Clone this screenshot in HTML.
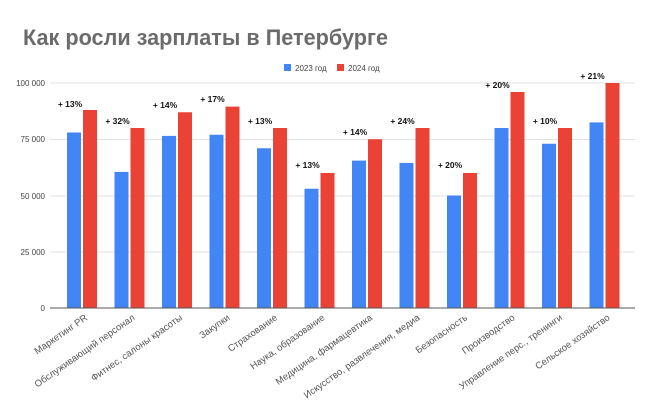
<!DOCTYPE html>
<html><head><meta charset="utf-8"><style>body{margin:0;background:#fff}svg{display:block}</style></head>
<body>
<svg width="656" height="408" xmlns="http://www.w3.org/2000/svg" font-family="Liberation Sans, sans-serif">
<rect width="656" height="408" fill="#fff"/>
<text x="23" y="45" font-size="22" font-weight="bold" fill="#6b6b6b" textLength="365" lengthAdjust="spacingAndGlyphs">Как росли зарплаты в Петербурге</text>
<rect x="284" y="64" width="7" height="7" fill="#4285f4"/>
<text x="295" y="71" font-size="8" fill="#444">2023 год</text>
<rect x="337" y="64" width="7" height="7" fill="#ea4335"/>
<text x="348" y="71" font-size="8" fill="#444">2024 год</text>
<g stroke="#e0e0e0" stroke-width="1">
<line x1="50" y1="83" x2="635" y2="83"/><line x1="50" y1="139.5" x2="635" y2="139.5"/>
<line x1="50" y1="196" x2="635" y2="196"/><line x1="50" y1="252" x2="635" y2="252"/>
</g>
<g font-size="8" fill="#444" text-anchor="end">
<text x="45" y="86">100 000</text><text x="45" y="142">75 000</text><text x="45" y="199">50 000</text><text x="45" y="255">25 000</text><text x="45" y="311">0</text>
</g>
<g fill="#4285f4">
<rect x="67" y="132.5" width="14" height="175.5"/>
<rect x="114.5" y="171.9" width="14" height="136.1"/>
<rect x="162" y="135.9" width="14" height="172.1"/>
<rect x="209.5" y="134.75" width="14" height="173.25"/>
<rect x="257" y="148.25" width="14" height="159.75"/>
<rect x="304.5" y="188.75" width="14" height="119.25"/>
<rect x="352" y="160.6" width="14" height="147.4"/>
<rect x="399.5" y="162.9" width="14" height="145.1"/>
<rect x="447" y="195.5" width="14" height="112.5"/>
<rect x="494.5" y="128" width="14" height="180"/>
<rect x="542" y="143.75" width="14" height="164.25"/>
<rect x="589.5" y="122.4" width="14" height="185.6"/>
</g>
<g fill="#ea4335">
<rect x="83" y="110" width="14" height="198"/>
<rect x="130.5" y="128" width="14" height="180"/>
<rect x="178" y="112.25" width="14" height="195.75"/>
<rect x="225.5" y="106.6" width="14" height="201.4"/>
<rect x="273" y="128" width="14" height="180"/>
<rect x="320.5" y="173" width="14" height="135"/>
<rect x="368" y="139.25" width="14" height="168.75"/>
<rect x="415.5" y="128" width="14" height="180"/>
<rect x="463" y="173" width="14" height="135"/>
<rect x="510.5" y="92" width="14" height="216"/>
<rect x="558" y="128" width="14" height="180"/>
<rect x="605.5" y="83" width="14" height="225"/>
</g>
<line x1="50" y1="308" x2="635" y2="308" stroke="#555" stroke-width="1"/>
<g font-size="8.5" font-weight="bold" fill="#111" text-anchor="middle">
<text x="70" y="107">+ 13%</text>
<text x="117.5" y="124">+ 32%</text>
<text x="165" y="108">+ 14%</text>
<text x="212.5" y="102">+ 17%</text>
<text x="260" y="124">+ 13%</text>
<text x="307.5" y="168">+ 13%</text>
<text x="355" y="135">+ 14%</text>
<text x="402.5" y="124">+ 24%</text>
<text x="450" y="168">+ 20%</text>
<text x="497.5" y="88">+ 20%</text>
<text x="545" y="124">+ 10%</text>
<text x="592.5" y="79">+ 21%</text>
</g>
<g font-size="9.5" fill="#555" text-anchor="end">
<text transform="translate(88,319) rotate(-35)">Маркетинг PR</text>
<text transform="translate(135.5,319) rotate(-35)">Обслуживающий персонал</text>
<text transform="translate(183,319) rotate(-35)">Фитнес, салоны красоты</text>
<text transform="translate(230.5,319) rotate(-35)">Закупки</text>
<text transform="translate(278,319) rotate(-35)">Страхование</text>
<text transform="translate(325.5,319) rotate(-35)">Наука, образование</text>
<text transform="translate(373,319) rotate(-35)">Медицина, фармацевтика</text>
<text transform="translate(420.5,319) rotate(-35)">Искусство, развлечения, медиа</text>
<text transform="translate(468,319) rotate(-35)">Безопасность</text>
<text transform="translate(515.5,319) rotate(-35)">Производство</text>
<text transform="translate(563,319) rotate(-35)">Управление перс., тренинги</text>
<text transform="translate(610.5,319) rotate(-35)">Сельское хозяйство</text>
</g>
</svg>
</body></html>
